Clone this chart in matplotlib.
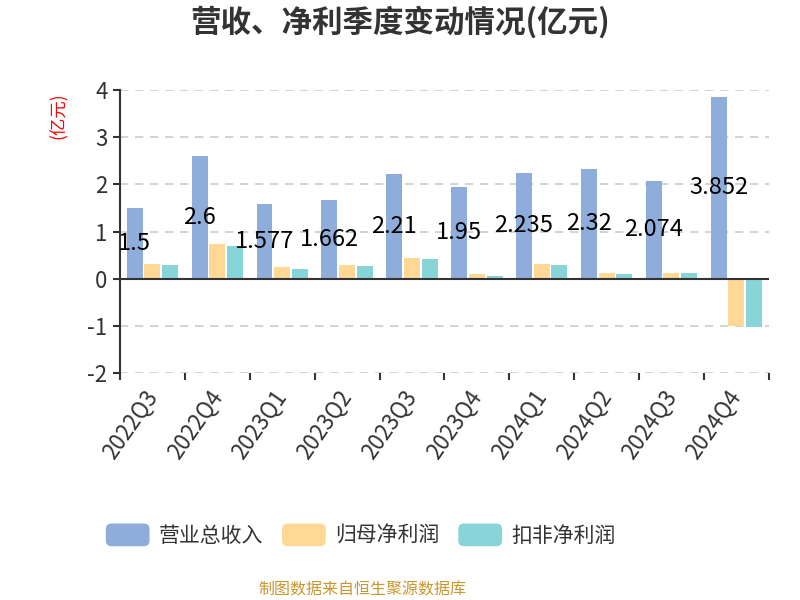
import numpy as np
import matplotlib
matplotlib.use('Agg')
import matplotlib.pyplot as plt
from matplotlib.patches import Patch, FancyBboxPatch
from matplotlib.legend_handler import HandlerPatch

plt.rcParams['font.family'] = ['Noto Sans CJK SC', 'DejaVu Sans']
plt.rcParams['axes.unicode_minus'] = False

# data (亿元)
quarters = ['2022Q3', '2022Q4', '2023Q1', '2023Q2', '2023Q3',
            '2023Q4', '2024Q1', '2024Q2', '2024Q3', '2024Q4']
revenue = [1.5, 2.6, 1.577, 1.662, 2.21, 1.95, 2.235, 2.32, 2.074, 3.852]
net_profit = [0.32, 0.74, 0.25, 0.28, 0.43, 0.10, 0.31, 0.11, 0.11, -1.01]
deducted_profit = [0.28, 0.70, 0.21, 0.26, 0.41, 0.05, 0.28, 0.10, 0.12, -1.02]
series_names = ['营业总收入', '归母净利润', '扣非净利润']
colors = ['#8eaddb', '#ffd896', '#87d5d9']


class RoundBoxHandler(HandlerPatch):
    def create_artists(self, legend, orig_handle, xdescent, ydescent,
                       width, height, fontsize, trans):
        p = FancyBboxPatch((-xdescent, -ydescent), width, height,
                           boxstyle='round,pad=0,rounding_size=%f' % (height * 0.25),
                           facecolor=orig_handle.get_facecolor(),
                           edgecolor='none', transform=trans)
        return [p]


fig = plt.figure(figsize=(8, 6), dpi=100)
ax = fig.add_axes([0.15, 0.3783, 0.811, 0.4717])

x = np.arange(len(quarters))
w = 0.246
off = 0.273
ax.bar(x - off, revenue, w, color=colors[0], zorder=3)
ax.bar(x, net_profit, w, color=colors[1], zorder=3)
ax.bar(x + off, deducted_profit, w, color=colors[2], zorder=3)

for xi, v in zip(x, revenue):
    ax.text(xi - off, v / 2, f'{v:g}', ha='center', va='center',
            fontsize=17, color='black', zorder=5)

ax.set_xlim(-0.5, len(quarters) - 0.5)
ax.set_ylim(-2, 4)
ax.set_yticks(np.arange(-2, 5, 1))
ax.set_yticklabels([str(v) for v in range(-2, 5)])

ax.set_xticks(x)
ax.set_xticklabels(quarters, rotation=55, ha='right', va='center',
                   rotation_mode='anchor')
ax.set_xticks(np.arange(-0.5, len(quarters)), minor=True)
ax.tick_params(axis='x', which='major', length=0, pad=14, labelsize=16, labelcolor='#333333')
ax.tick_params(axis='x', which='minor', length=5, width=1.5, color='#333333')
ax.tick_params(axis='y', length=5, width=1.5, color='#333333', labelsize=16,
               labelcolor='#333333', pad=4)

ax.grid(axis='y', color='#cccccc', linestyle=(0, (5, 4)), linewidth=1.2, zorder=0)
ax.axhline(0, color='#333333', linewidth=1.5, zorder=4)
for s in ['top', 'right', 'bottom']:
    ax.spines[s].set_visible(False)
ax.spines['left'].set_color('#333333')
ax.spines['left'].set_linewidth(1.5)

fig.text(0.074, 0.808, '(亿元)', rotation=90, color='red', fontsize=12.5,
         ha='center', va='center')

fig.text(0.5, 0.963, '营收、净利季度变动情况(亿元)', ha='center', va='center',
         fontsize=22, fontweight='bold', color='#333333')

handles = [Patch(facecolor=c) for c in colors]
fig.legend(handles, series_names, loc='center', bbox_to_anchor=(0.451, 0.108),
           ncol=3, frameon=False, fontsize=15, handlelength=2.1, handleheight=1.3,
           handletextpad=0.45, columnspacing=0.9, labelcolor='#333333',
           handler_map={Patch: RoundBoxHandler()})

fig.text(0.4525, 0.017, '制图数据来自恒生聚源数据库', ha='center', va='center',
         fontsize=11.5, color='#c9962f')

fig.savefig('out.png', dpi=100)
